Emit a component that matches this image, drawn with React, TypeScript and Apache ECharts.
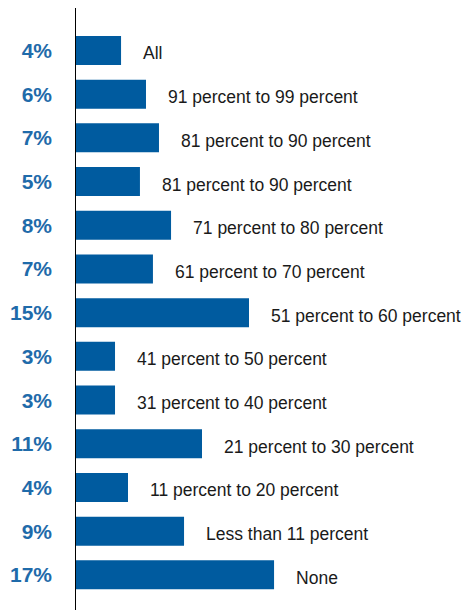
import React, { useEffect, useRef } from "react";
import * as echarts from "echarts";

const categories = [
  "All",
  "91 percent to 99 percent",
  "81 percent to 90 percent",
  "81 percent to 90 percent",
  "71 percent to 80 percent",
  "61 percent to 70 percent",
  "51 percent to 60 percent",
  "41 percent to 50 percent",
  "31 percent to 40 percent",
  "21 percent to 30 percent",
  "11 percent to 20 percent",
  "Less than 11 percent",
  "None",
];
// bar lengths as drawn in the picture (percent)
const values = [3.97, 6.12, 7.24, 5.6, 8.28, 6.72, 15.0, 3.45, 3.45, 10.95, 4.57, 9.4, 17.16];
// printed value labels
const valueLabels = ["4%", "6%", "7%", "5%", "8%", "7%", "15%", "3%", "3%", "11%", "4%", "9%", "17%"];

export default function App() {
  const ref = useRef<HTMLDivElement>(null);
  useEffect(() => {
    if (!ref.current) return;
    const chart = echarts.init(ref.current, undefined, { renderer: "svg" });
    chart.setOption({
      animation: false,
      grid: { left: 75, right: 46, top: 28.6, bottom: 13.3, containLabel: false },
      xAxis: {
        type: "value",
        min: 0,
        max: 30,
        show: false,
      },
      yAxis: {
        type: "category",
        inverse: true,
        data: categories,
        axisLine: { show: false },
        axisTick: { show: false },
        axisLabel: {
          margin: 23,
          color: "#1F6BAA",
          fontFamily: "Liberation Sans",
          fontWeight: "bold",
          fontSize: 21,
          formatter: (_v: string, i: number) => valueLabels[i],
          padding: [5, 0, 0, 0],
        },
      },
      series: [
        {
          type: "bar",
          data: values,
          barWidth: 29,
          itemStyle: { color: "#005B9F" },
          label: {
            show: true,
            position: "right",
            distance: 22,
            formatter: "{b}",
            color: "#1a1a1a",
            fontFamily: "Liberation Sans",
            fontSize: 17.5,
            offset: [0, 3],
          },
        },
      ],
      graphic: [
        {
          type: "line",
          shape: { x1: 75.5, y1: 8, x2: 75.5, y2: 610 },
          style: { stroke: "#000", lineWidth: 1 },
          z: 100,
        },
      ],
    });
    return () => chart.dispose();
  }, []);
  return <div ref={ref} style={{ width: 469, height: 610, position: "absolute", left: 0, top: 0 }} />;
}
